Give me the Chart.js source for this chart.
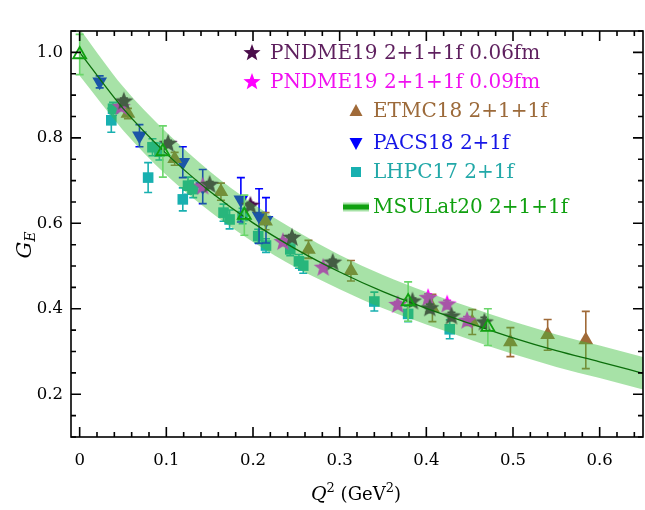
<!DOCTYPE html>
<html>
<head>
<meta charset="utf-8">
<script src="https://cdn.jsdelivr.net/npm/chart.js@4.4.0/dist/chart.umd.min.js"></script>
<style>
  body { margin: 0; background: #fff; }
  #grafico { display: block; }
</style>
</head>
<body>
<canvas id="grafico" width="645" height="510"></canvas>
<script>
// Datos
const pndme06X = [0.051, 0.102, 0.150, 0.197, 0.245, 0.292, 0.384, 0.404, 0.429, 0.467];
const pndme06Y = [0.885, 0.786, 0.690, 0.641, 0.566, 0.508, 0.417, 0.401, 0.382, 0.368];
const pndme06Err = [0.008, 0.008, 0.008, 0.008, 0.008, 0.008, 0.008, 0.010, 0.010, 0.012];

const pndme09X = [0.048, 0.142, 0.2345, 0.281, 0.367, 0.402, 0.424, 0.447];
const pndme09Y = [0.872, 0.686, 0.556, 0.496, 0.409, 0.425, 0.410, 0.372];
const pndme09Err = [0.008, 0.008, 0.008, 0.008, 0.008, 0.010, 0.010, 0.010];

const etmcX = [0.0557, 0.1096, 0.163, 0.2145, 0.264, 0.313, 0.407, 0.453, 0.497, 0.540, 0.584];
const etmcY = [0.857, 0.751, 0.674, 0.605, 0.539, 0.489, 0.402, 0.369, 0.322, 0.339, 0.327];
const etmcErr = [0.012, 0.015, 0.020, 0.020, 0.021, 0.024, 0.032, 0.029, 0.034, 0.036, 0.067];

const pacsX = [0.0231, 0.069, 0.119, 0.142, 0.186, 0.207, 0.215];
const pacsY = [0.931, 0.805, 0.743, 0.686, 0.655, 0.617, 0.607];
const pacsErr = [0.014, 0.026, 0.036, 0.040, 0.052, 0.064, 0.053];

const lhpcX = [0.0365, 0.0385, 0.079, 0.084, 0.092, 0.119, 0.125, 0.131, 0.166, 0.173, 0.188, 0.206, 0.215, 0.243, 0.253, 0.258, 0.340, 0.379, 0.427];
const lhpcY = [0.841, 0.868, 0.707, 0.778, 0.768, 0.656, 0.688, 0.680, 0.625, 0.609, 0.617, 0.570, 0.548, 0.539, 0.511, 0.501, 0.417, 0.388, 0.352];
const lhpcErr = [0.028, 0.015, 0.035, 0.020, 0.020, 0.027, 0.020, 0.020, 0.020, 0.022, 0.018, 0.016, 0.016, 0.015, 0.016, 0.018, 0.022, 0.018, 0.022];

const msuX = [0, 0.096, 0.190, 0.379, 0.471];
const msuY = [0.995, 0.768, 0.619, 0.417, 0.357];
const msuErr = [0.047, 0.060, 0.047, 0.046, 0.043];

// Banda y curva central de MSULat20
const bandX = [0, 0.05, 0.10, 0.15, 0.20, 0.25, 0.30, 0.35, 0.40, 0.45, 0.50, 0.55, 0.60, 0.65];
const bandUpper = [1.055, 0.920, 0.813, 0.722, 0.646, 0.582, 0.526, 0.479, 0.439, 0.404, 0.370, 0.340, 0.314, 0.287];
const bandLower = [0.945, 0.818, 0.713, 0.628, 0.556, 0.496, 0.446, 0.401, 0.363, 0.328, 0.294, 0.264, 0.238, 0.211];
const bandCenter = [1.000, 0.869, 0.763, 0.675, 0.601, 0.539, 0.486, 0.440, 0.401, 0.366, 0.332, 0.302, 0.276, 0.249];

const xTicks = [0, 0.1, 0.2, 0.3, 0.4, 0.5, 0.6];
const yTicks = [0.2, 0.4, 0.6, 0.8, 1.0];

const FONT = "'DejaVu Serif', serif";

function puntos(xs, ys) {
  return xs.map((x, i) => ({ x: x, y: ys[i] }));
}

// Estrella rellena como imagen para pointStyle
function estrella(color, r) {
  const c = document.createElement("canvas");
  c.width = c.height = Math.ceil(r * 2 + 2);
  const g = c.getContext("2d");
  const cx = c.width / 2, cy = c.height / 2;
  g.beginPath();
  for (let i = 0; i < 10; i++) {
    const rr = i % 2 === 0 ? r : r * 0.42;
    const a = -Math.PI / 2 + i * Math.PI / 5;
    g.lineTo(cx + rr * Math.cos(a), cy + rr * Math.sin(a));
  }
  g.closePath();
  g.fillStyle = color;
  g.fill();
  return c;
}

// Barras de error dibujadas antes de cada serie
const barrasError = {
  id: "barrasError",
  beforeDatasetDraw(chart, args) {
    const ds = chart.data.datasets[args.index];
    if (!ds.errores) return;
    const { ctx, chartArea } = chart;
    const xs = chart.scales.x, ys = chart.scales.y;
    ctx.save();
    ctx.beginPath();
    ctx.rect(chartArea.left, chartArea.top, chartArea.right - chartArea.left, chartArea.bottom - chartArea.top);
    ctx.clip();
    ctx.strokeStyle = ds.colorError;
    ctx.lineWidth = 1.6;
    ds.data.forEach((p, i) => {
      const e = ds.errores[i];
      const px = xs.getPixelForValue(p.x);
      const y1 = ys.getPixelForValue(p.y + e);
      const y2 = ys.getPixelForValue(p.y - e);
      ctx.beginPath();
      ctx.moveTo(px, y1); ctx.lineTo(px, y2);
      ctx.moveTo(px - 4, y1); ctx.lineTo(px + 4, y1);
      ctx.moveTo(px - 4, y2); ctx.lineTo(px + 4, y2);
      ctx.stroke();
    });
    ctx.restore();
  },
};

// Marco, marcas hacia dentro, títulos de ejes y leyenda
const marco = {
  id: "marco",
  afterDraw(chart) {
    const { ctx, chartArea: a } = chart;
    const xs = chart.scales.x, ys = chart.scales.y;
    ctx.save();
    ctx.strokeStyle = "#000";
    ctx.lineWidth = 1.6;
    ctx.strokeRect(a.left, a.top, a.right - a.left, a.bottom - a.top);
    ctx.beginPath();
    for (let i = 0; i <= 32; i++) {
      const v = i * 0.02;
      const px = xs.getPixelForValue(v);
      const l = i % 5 === 0 ? 10 : 5;
      ctx.moveTo(px, a.bottom); ctx.lineTo(px, a.bottom - l);
      ctx.moveTo(px, a.top); ctx.lineTo(px, a.top + l);
    }
    for (let i = 2; i <= 21; i++) {
      const v = i * 0.05;
      const py = ys.getPixelForValue(v);
      const l = i % 4 === 0 ? 10 : 5;
      ctx.moveTo(a.left, py); ctx.lineTo(a.left + l, py);
      ctx.moveTo(a.right, py); ctx.lineTo(a.right - l, py);
    }
    ctx.stroke();

    // Título eje y: G_E
    ctx.fillStyle = "#000";
    ctx.save();
    ctx.translate(24, 245);
    ctx.rotate(-Math.PI / 2);
    ctx.textBaseline = "alphabetic";
    ctx.font = "italic 21px " + FONT;
    const wG = ctx.measureText("G").width;
    ctx.font = "italic 14px " + FONT;
    const wE = ctx.measureText("E").width;
    const x0 = -(wG + wE) / 2;
    ctx.font = "italic 21px " + FONT;
    ctx.fillText("G", x0, 7);
    ctx.font = "italic 14px " + FONT;
    ctx.fillText("E", x0 + wG, 11);
    ctx.restore();

    // Título eje x: Q^2 (GeV^2)
    const partes = [
      ["Q", "italic 19px ", 0],
      ["2", "13px ", -8],
      [" (GeV", "18px ", 0],
      ["2", "13px ", -8],
      [")", "18px ", 0],
    ];
    let total = 0;
    partes.forEach((p) => { ctx.font = p[1] + FONT; total += ctx.measureText(p[0]).width; });
    let xx = 356 - total / 2;
    ctx.textBaseline = "alphabetic";
    partes.forEach((p) => {
      ctx.font = p[1] + FONT;
      ctx.fillText(p[0], xx, 500 + p[2]);
      xx += ctx.measureText(p[0]).width;
    });

    // Leyenda
    ctx.font = "20px " + FONT;
    ctx.textBaseline = "middle";
    ctx.textAlign = "left";
    const filas = [
      { t: "PNDME19 2+1+1f 0.06fm", c: "#5e1f5e", s: "star", sc: "#4b0d4b", sx: 252, tx: 270, y: 53 },
      { t: "PNDME19 2+1+1f 0.09fm", c: "#f010f0", s: "star", sc: "#ff00ff", sx: 252, tx: 270, y: 82 },
      { t: "ETMC18 2+1+1f", c: "#9c6a3a", s: "tri", sc: "#a06a38", sx: 356, tx: 373, y: 111 },
      { t: "PACS18 2+1f", c: "#1515e6", s: "down", sc: "#0000ff", sx: 356, tx: 373, y: 143 },
      { t: "LHPC17 2+1f", c: "#22a8a8", s: "sq", sc: "#18b0b0", sx: 356, tx: 373, y: 172 },
      { t: "MSULat20 2+1+1f", c: "#10a010", s: "line", sc: "#10a010", sx: 356, tx: 373, y: 207 },
    ];
    filas.forEach((f) => {
      ctx.fillStyle = f.sc;
      if (f.s === "star") {
        const img = estrella(f.sc, 9);
        ctx.drawImage(img, f.sx - img.width / 2, f.y - img.height / 2);
      } else if (f.s === "tri" || f.s === "down") {
        const d = f.s === "tri" ? 1 : -1;
        ctx.beginPath();
        ctx.moveTo(f.sx, f.y - d * 7);
        ctx.lineTo(f.sx + 6.5, f.y + d * 5);
        ctx.lineTo(f.sx - 6.5, f.y + d * 5);
        ctx.closePath();
        ctx.fill();
      } else if (f.s === "sq") {
        ctx.fillRect(f.sx - 5, f.y - 5, 10, 10);
      } else {
        ctx.fillStyle = "rgba(60,190,60,0.45)";
        ctx.fillRect(f.sx - 13, f.y - 4.5, 26, 9);
        ctx.fillStyle = f.sc;
        ctx.fillRect(f.sx - 13, f.y - 2.5, 26, 5);
      }
      ctx.fillStyle = f.c;
      ctx.fillText(f.t, f.tx, f.y + 1);
    });
    ctx.restore();
  },
};

const ctx = document.getElementById("grafico").getContext("2d");

function serie(etiqueta, xs, ys, errs, color, estilo, extra) {
  return Object.assign({
    label: etiqueta,
    type: "scatter",
    data: puntos(xs, ys),
    errores: errs,
    colorError: color,
    pointStyle: estilo,
    pointBackgroundColor: color,
    pointBorderColor: color,
    pointBorderWidth: 0,
    pointRadius: 7.5,
    showLine: false,
  }, extra || {});
}

const chart = new Chart(ctx, {
  type: "scatter",
  data: {
    datasets: [
      serie("PNDME19 2+1+1f 0.06fm", pndme06X, pndme06Y, pndme06Err, "#4b0d4b", estrella("#4b0d4b", 10), { order: 10 }),
      serie("PNDME19 2+1+1f 0.09fm", pndme09X, pndme09Y, pndme09Err, "#ff00ff", estrella("#ff00ff", 10), { order: 11 }),
      serie("ETMC18 2+1+1f", etmcX, etmcY, etmcErr, "#a06a38", "triangle", { order: 12, pointRadius: 8.5 }),
      serie("PACS18 2+1f", pacsX, pacsY, pacsErr, "#0000ff", "triangle", { order: 13, pointRadius: 8.5, pointRotation: 180 }),
      serie("LHPC17 2+1f", lhpcX, lhpcY, lhpcErr, "#18b0b0", "rect", { order: 14, pointRadius: 7.5 }),
      {
        label: "banda sup",
        type: "line",
        data: puntos(bandX, bandUpper),
        borderWidth: 0,
        borderColor: "rgba(0,0,0,0)",
        pointRadius: 0,
        cubicInterpolationMode: "monotone",
        fill: false,
        order: 3,
      },
      {
        label: "banda inf",
        type: "line",
        data: puntos(bandX, bandLower),
        borderWidth: 0,
        borderColor: "rgba(0,0,0,0)",
        backgroundColor: "rgba(60,190,60,0.45)",
        pointRadius: 0,
        cubicInterpolationMode: "monotone",
        fill: "-1",
        order: 3,
      },
      {
        label: "MSULat20 ajuste",
        type: "line",
        data: puntos(bandX, bandCenter),
        borderWidth: 1.3,
        borderColor: "#0b6e0b",
        pointRadius: 0,
        cubicInterpolationMode: "monotone",
        fill: false,
        order: 2,
      },
      serie("MSULat20 2+1+1f", msuX, msuY, msuErr, "#6ad66a", "triangle", {
        order: 1,
        pointRadius: 7.5,
        pointBackgroundColor: "rgba(0,0,0,0)",
        pointBorderColor: "#10a010",
        pointBorderWidth: 1.8,
      }),
    ],
  },
  options: {
    responsive: false,
    animation: false,
    layout: { autoPadding: false, padding: { top: 31, right: 2, bottom: 0, left: 0 } },
    plugins: {
      legend: { display: false },
      tooltip: { enabled: false },
    },
    scales: {
      x: {
        type: "linear",
        min: -0.01,
        max: 0.65,
        afterBuildTicks: (s) => { s.ticks = xTicks.map((v) => ({ value: v })); },
        afterFit: (s) => { s.height = 73; s.paddingLeft = 0; s.paddingRight = 0; },
        grid: { display: false, drawTicks: false },
        border: { display: false },
        ticks: {
          color: "#000",
          font: { family: FONT, size: 16.5 },
          padding: 14,
          maxRotation: 0,
          callback: (v) => (v === 0 ? "0" : v.toFixed(1)),
        },
      },
      y: {
        type: "linear",
        min: 0.1,
        max: 1.05,
        afterBuildTicks: (s) => { s.ticks = yTicks.map((v) => ({ value: v })); },
        afterFit: (s) => { s.width = 71; s.paddingTop = 0; s.paddingBottom = 0; },
        grid: { display: false, drawTicks: false },
        border: { display: false },
        ticks: {
          color: "#000",
          font: { family: FONT, size: 16.5 },
          padding: 8,
          callback: (v) => v.toFixed(1),
        },
      },
    },
  },
  plugins: [barrasError, marco],
});
</script>
</body>
</html>
